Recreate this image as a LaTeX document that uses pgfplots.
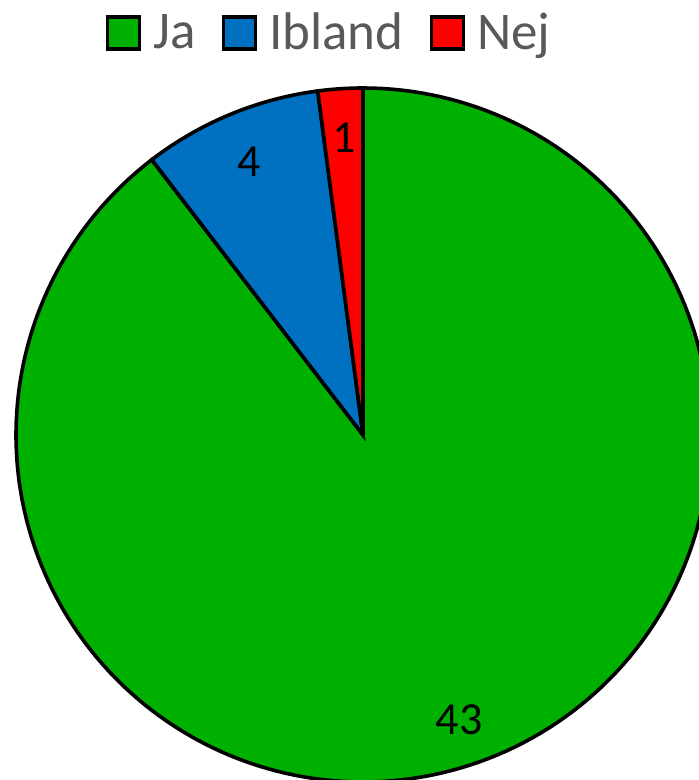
\documentclass[border=0pt]{standalone}
\usepackage{pgfplots}
\pgfplotsset{compat=1.18}
\usepackage{fontspec}
\setmainfont{Carlito}
\definecolor{cJa}{RGB}{0,176,0}
\definecolor{cIb}{RGB}{0,112,192}
\definecolor{cNe}{RGB}{255,0,0}
\definecolor{legtxt}{RGB}{89,89,89}
\begin{document}
\begin{tikzpicture}
\path[use as bounding box] (0,0) rectangle (349.5pt,390pt);
\clip (0,0) rectangle (349.5pt,390pt);
\pgfmathsetmacro{\vJa}{43}
\pgfmathsetmacro{\vIb}{4}
\pgfmathsetmacro{\vNe}{1}
\pgfmathsetmacro{\tot}{\vJa+\vIb+\vNe}
\pgfmathsetmacro{\aA}{90}
\pgfmathsetmacro{\aB}{90+360*\vNe/\tot}
\pgfmathsetmacro{\aC}{\aB+360*\vIb/\tot}
\pgfmathsetmacro{\aD}{\aC+360*\vJa/\tot}
\begin{axis}[
  at={(181.5pt,172.5pt)}, anchor=origin,
  x=173.5pt, y=173.5pt,
  xmin=-1, xmax=1, ymin=-1, ymax=1,
  hide axis, clip=false,
  legend columns=3,
  legend style={at={(axis cs:-0.095,1.159)}, anchor=center, draw=none, fill=none,
    font=\fontsize{26.5}{30}\selectfont, text=legtxt,
    /tikz/every even column/.append style={column sep=11pt},
    /tikz/every odd column/.append style={column sep=4pt},
    inner sep=0pt},
  legend image code/.code={\draw[#1, draw=black, line width=1.8pt] (0pt,-8pt) rectangle (16pt,8pt);},
]
\addplot[fill=cJa, draw=black, line width=1.8pt, domain=\aC:\aD, samples=200] ({cos(x)},{sin(x)}) -- (0,0) -- cycle;
\addlegendentry{Ja}
\addplot[fill=cIb, draw=black, line width=1.8pt, domain=\aB:\aC, samples=30] ({cos(x)},{sin(x)}) -- (0,0) -- cycle;
\addlegendentry{Ibland}
\addplot[fill=cNe, draw=black, line width=1.8pt, domain=\aA:\aB, samples=10] ({cos(x)},{sin(x)}) -- (0,0) -- cycle;
\addlegendentry{Nej}
\node[font=\fontsize{23}{27}\selectfont] at (axis cs:0.277,-0.821) {43};
\node[font=\fontsize{23}{27}\selectfont] at (axis cs:-0.329,0.787) {4};
\node[font=\fontsize{23}{27}\selectfont] at (axis cs:-0.055,0.857) {1};
\end{axis}
\end{tikzpicture}
\end{document}
